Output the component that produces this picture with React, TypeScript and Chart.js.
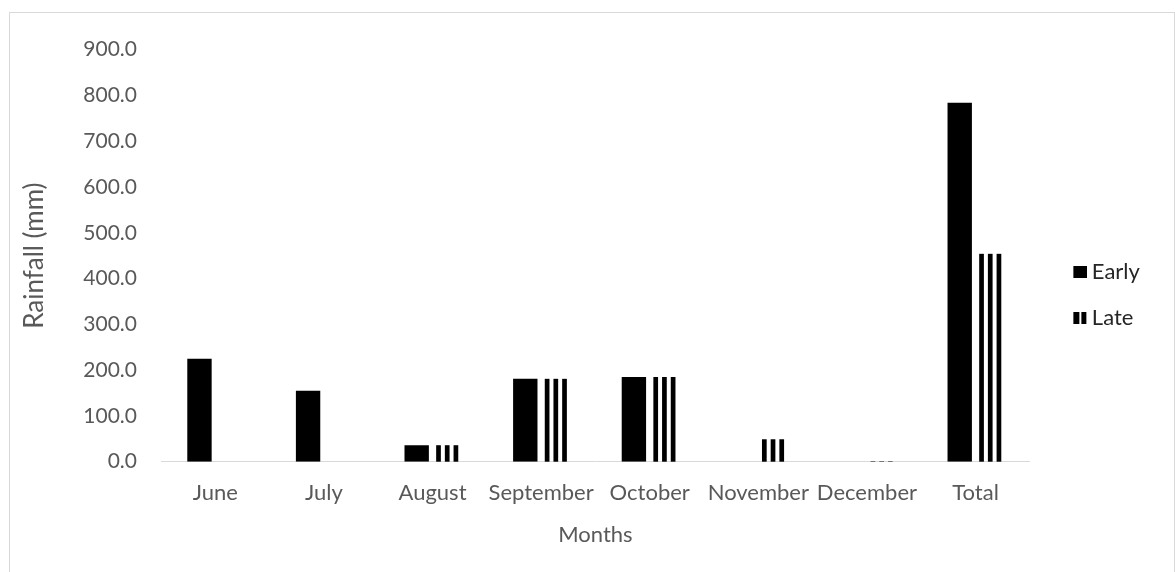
import React, { useEffect, useRef } from "react";
import { Chart, registerables } from "chart.js";

Chart.register(...registerables);

// Monthly rainfall (mm) for the two sowing dates, plus season totals
const months = ["June", "July", "August", "September", "October", "November", "December", "Total"];
const earlyRain = [225, 155, 36, 181, 185, 0, 0, 784];
const lateRain = [0, 0, 36, 181, 185, 49, 1, 454];
const seriesNames = ["Early", "Late"];
const yMax = 900;
const yStep = 100;

const FONT = "Lato, 'Open Sans', sans-serif";
const TEXT = "#595959";
const RULE = "#d9d9d9";
const STRIPE_PERIOD = 8.7;
const STRIPE_WIDTH = 4.7;

// Legend swatches: a solid block and a two-stripe block, right-aligned in a wider canvas
function makeSwatch(striped: boolean): HTMLCanvasElement {
  const c = document.createElement("canvas");
  c.width = 40;
  c.height = 12;
  const g = c.getContext("2d")!;
  g.fillStyle = "#000";
  if (striped) {
    g.fillRect(26, 0, 6, 12);
    g.fillRect(34, 0, 5, 12);
  } else {
    g.fillRect(26, 0, 14, 12);
  }
  return c;
}

// Fills the "Late" bars with vertical black stripes, using the bar geometry from the chart
const stripePlugin = {
  id: "verticalStripes",
  afterDatasetsDraw(chart: any) {
    const meta = chart.getDatasetMeta(1);
    if (!meta || meta.hidden) return;
    const ctx = chart.ctx as CanvasRenderingContext2D;
    ctx.save();
    ctx.fillStyle = "#000";
    for (const bar of meta.data) {
      const { x, y, base, width } = bar.getProps(["x", "y", "base", "width"], true);
      const left = x - width / 2;
      const right = x + width / 2;
      const top = Math.min(y, base);
      const bottom = Math.max(y, base);
      if (bottom - top <= 0) continue;
      for (let sx = left; sx < right; sx += STRIPE_PERIOD) {
        ctx.fillRect(sx, top, Math.min(STRIPE_WIDTH, right - sx), bottom - top);
      }
    }
    ctx.restore();
  },
};

export default function App() {
  const canvasRef = useRef<HTMLCanvasElement>(null);

  useEffect(() => {
    const swatches = [makeSwatch(false), makeSwatch(true)];
    const chart = new Chart(canvasRef.current!, {
      type: "bar",
      data: {
        labels: months,
        datasets: [
          {
            label: seriesNames[0],
            data: earlyRain,
            backgroundColor: "#000",
            borderWidth: 0,
            categoryPercentage: 0.583,
            barPercentage: 0.77,
          },
          {
            label: seriesNames[1],
            data: lateRain,
            backgroundColor: "rgba(0,0,0,0)",
            borderWidth: 0,
            categoryPercentage: 0.583,
            barPercentage: 0.77,
          },
        ],
      },
      options: {
        animation: false,
        responsive: true,
        maintainAspectRatio: false,
        layout: { padding: { top: 28.7, bottom: 24, left: 0, right: 24.1 } },
        plugins: {
          tooltip: { enabled: false },
          legend: {
            position: "right",
            labels: {
              usePointStyle: true,
              pointStyleWidth: 27,
              boxWidth: 27,
              padding: 24,
              color: "#262626",
              font: { family: FONT, size: 22 },
              generateLabels: () =>
                seriesNames.map((name, i) => ({
                  text: name,
                  pointStyle: swatches[i],
                  fillStyle: "#000",
                  strokeStyle: "rgba(0,0,0,0)",
                  lineWidth: 0,
                  hidden: false,
                  datasetIndex: i,
                  fontColor: "#262626",
                })),
            },
          },
        },
        scales: {
          x: {
            grid: { display: false, drawTicks: false },
            border: { display: true, color: RULE, width: 1 },
            ticks: {
              color: TEXT,
              font: { family: FONT, size: 22 },
              padding: 18,
              maxRotation: 0,
              autoSkip: false,
            },
            title: {
              display: true,
              text: "Months",
              color: TEXT,
              font: { family: FONT, size: 22 },
              padding: { top: 0, bottom: 0 },
            },
            afterFit: (scale: any) => {
              scale.height = 86.3;
            },
          },
          y: {
            min: 0,
            max: yMax,
            grid: { display: false, drawTicks: false },
            border: { display: false },
            ticks: {
              stepSize: yStep,
              color: TEXT,
              font: { family: FONT, size: 21 },
              padding: 24,
              callback: (v: any) => Number(v).toFixed(1),
            },
            title: {
              display: true,
              text: "Rainfall (mm)",
              color: TEXT,
              font: { family: FONT, size: 26 },
              padding: { top: 9.4, bottom: 0 },
            },
            afterFit: (scale: any) => {
              scale.width = 151;
            },
          },
        },
      },
      plugins: [stripePlugin],
    });
    return () => chart.destroy();
  }, []);

  return (
    <div
      style={{
        position: "absolute",
        left: 9,
        top: 12,
        width: 1166,
        height: 560,
        boxSizing: "border-box",
        border: `1px solid ${RULE}`,
        borderBottom: "none",
        background: "#fff",
      }}
    >
      <div style={{ position: "relative", width: 1164, height: 559 }}>
        <canvas ref={canvasRef} />
      </div>
    </div>
  );
}
